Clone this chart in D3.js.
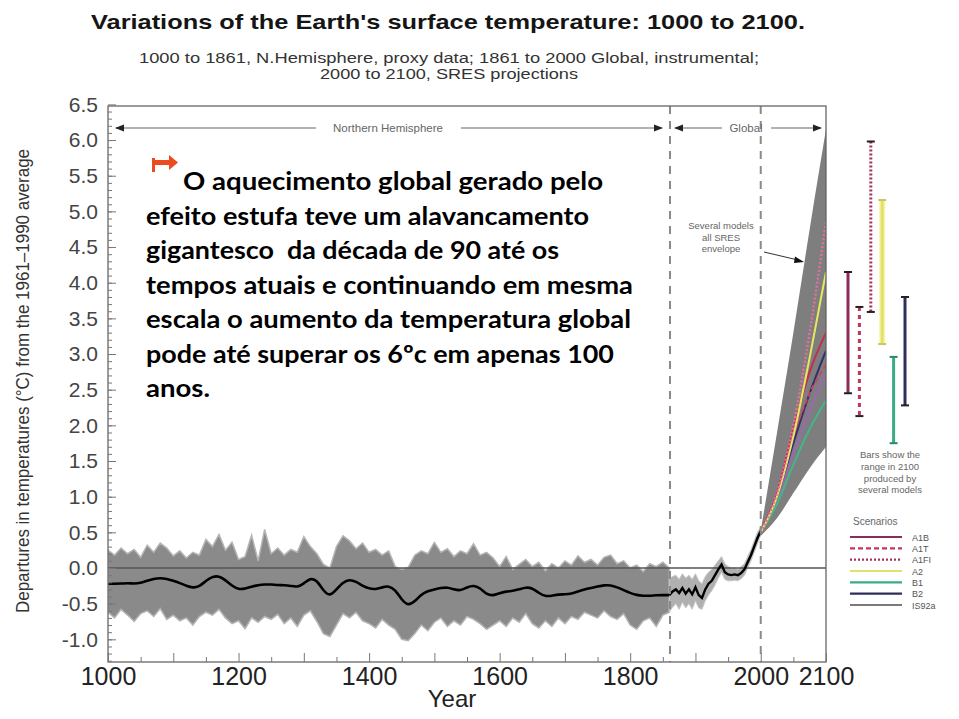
<!DOCTYPE html>
<html><head><meta charset="utf-8">
<script src="https://cdn.jsdelivr.net/npm/d3@7"></script>
<style>body{margin:0;background:#fff}svg{display:block}</style>
</head><body>
<svg id="c" width="959" height="719"></svg>
<script>
// ---------------- DATA ----------------
const proxyYears = d3.range(1000, 1870, 10); // 1000..1860
const proxySmooth = [-0.22,-0.22,-0.22,-0.21,-0.22,-0.21,-0.18,-0.15,-0.14,-0.15,
  -0.18,-0.21,-0.25,-0.28,-0.26,-0.18,-0.12,-0.11,-0.17,-0.25,
  -0.30,-0.29,-0.26,-0.24,-0.23,-0.23,-0.24,-0.24,-0.25,-0.27,
  -0.22,-0.14,-0.17,-0.32,-0.40,-0.30,-0.20,-0.16,-0.19,-0.25,
  -0.29,-0.30,-0.27,-0.25,-0.30,-0.45,-0.53,-0.47,-0.37,-0.32,
  -0.30,-0.28,-0.27,-0.30,-0.32,-0.27,-0.24,-0.28,-0.37,-0.39,
  -0.35,-0.33,-0.32,-0.30,-0.27,-0.28,-0.35,-0.40,-0.39,-0.37,
  -0.37,-0.36,-0.33,-0.30,-0.28,-0.26,-0.24,-0.24,-0.27,-0.31,
  -0.35,-0.38,-0.39,-0.39,-0.38,-0.38,-0.38];
const proxyUpper = [0.25,0.18,0.28,0.20,0.26,0.15,0.32,0.22,0.35,0.28,
  0.17,0.24,0.14,0.22,0.18,0.40,0.30,0.47,0.25,0.36,
  0.12,0.16,0.46,0.10,0.54,0.20,0.28,0.18,0.26,0.22,
  0.44,0.30,0.20,0.05,0.00,0.30,0.45,0.38,0.27,0.35,
  0.22,0.26,0.18,0.24,0.02,-0.02,0.01,0.18,0.24,0.20,
  0.36,0.22,0.27,0.16,0.24,0.20,0.34,0.18,0.22,0.14,
  0.02,0.16,-0.02,0.05,0.12,0.02,0.08,-0.04,0.06,0.00,
  0.10,0.04,0.17,0.08,0.12,0.04,0.15,0.18,0.06,0.10,
  0.00,0.04,-0.05,0.06,0.02,0.08,0.00];
const proxyLower = [-0.62,-0.70,-0.58,-0.66,-0.75,-0.64,-0.60,-0.68,-0.57,-0.72,
  -0.66,-0.74,-0.70,-0.80,-0.68,-0.62,-0.66,-0.58,-0.70,-0.78,
  -0.74,-0.85,-0.70,-0.76,-0.68,-0.72,-0.65,-0.78,-0.70,-0.82,
  -0.66,-0.60,-0.75,-0.92,-0.96,-0.80,-0.64,-0.70,-0.62,-0.74,
  -0.78,-0.84,-0.72,-0.80,-0.86,-1.00,-1.02,-0.92,-0.80,-0.88,
  -0.76,-0.70,-0.82,-0.74,-0.80,-0.68,-0.72,-0.78,-0.86,-0.80,
  -0.74,-0.82,-0.70,-0.76,-0.64,-0.78,-0.84,-0.74,-0.82,-0.70,
  -0.78,-0.68,-0.72,-0.62,-0.66,-0.70,-0.60,-0.68,-0.72,-0.64,
  -0.80,-0.86,-0.74,-0.70,-0.82,-0.66,-0.62];

const instYears = d3.range(1860, 2005, 5); // 1860..2000
const instValues = [-0.38,-0.33,-0.30,-0.35,-0.28,-0.36,-0.30,-0.37,-0.27,-0.38,
  -0.42,-0.30,-0.22,-0.18,-0.10,-0.02,0.05,-0.06,-0.09,-0.10,
  -0.09,-0.10,-0.07,-0.02,0.08,0.18,0.30,0.42,0.52];
const instUpper = [-0.15,-0.12,-0.10,-0.16,-0.08,-0.14,-0.10,-0.16,-0.08,-0.18,
  -0.22,-0.12,-0.06,-0.02,0.04,0.10,0.16,0.06,0.02,0.00,
  0.00,-0.02,0.02,0.06,0.16,0.26,0.38,0.50,0.58];
const instLower = [-0.62,-0.55,-0.50,-0.58,-0.48,-0.56,-0.50,-0.58,-0.46,-0.56,
  -0.58,-0.46,-0.38,-0.32,-0.24,-0.14,-0.06,-0.16,-0.18,-0.18,
  -0.17,-0.18,-0.15,-0.10,0.00,0.10,0.22,0.34,0.46];

const projYears = [2000, 2025, 2050, 2075, 2100];
const envUpper = [0.52, 1.9, 3.3, 4.75, 6.15];
const envLower = [0.45, 0.70, 1.05, 1.40, 1.70];
const scenarios = ["A1B","A1T","A1FI","A2","B1","B2","IS92a"];
const scenA1B  = [0.5, 1.05, 1.95, 2.75, 3.30];
const scenA1T  = [0.5, 1.05, 1.85, 2.45, 2.85];
const scenA1FI = [0.5, 1.05, 2.00, 3.30, 4.85];
const scenA2   = [0.5, 1.00, 1.85, 2.95, 4.15];
const scenB1   = [0.5, 0.90, 1.45, 1.95, 2.35];
const scenB2   = [0.5, 1.00, 1.75, 2.45, 3.05];
const scenIS92a= [0.5, 0.95, 1.60, 2.20, 2.75];
const barScenarios = ["A1B","A1T","A1FI","A2","B1","B2"];
const barLow  = [2.45, 2.13, 3.59, 3.14, 1.75, 2.28];
const barHigh = [4.15, 3.66, 5.98, 5.16, 2.96, 3.80];

const yTickValues = [-1,-0.5,0,0.5,1,1.5,2,2.5,3,3.5,4,4.5,5,5.5,6,6.5];
const xLabelYears = [1000,1200,1400,1600,1800,2000,2100];

// ---------------- STYLE ----------------
const scenColor = {A1B:"#8a2c5c", A1T:"#c2365e", A1FI:"#a8305c", A2:"#e2e26a", B1:"#3aab84", B2:"#2e2e5a", IS92a:"#7a7a7a"};
const scenDash  = {A1B:null, A1T:"5,3", A1FI:"2,2", A2:null, B1:null, B2:null, IS92a:null};
const lineColor = {A1B:"#c03050", A1T:"#d04060", A1FI:"#e070a0", A2:"#e8e860", B1:"#40b888", B2:"#303070", IS92a:"#9a6ab0"};

const svg = d3.select("#c");
const x = d3.scaleLinear().domain([1000, 2100]).range([108, 826]);
const y = d3.scaleLinear().domain([0, 6.5]).range([568, 104.4]);
const fTop = 106, fBot = 662, fL = 108, fR = 826;
const sans = "'Liberation Sans', Arial, sans-serif";

// Title
svg.append("text").attr("x", 448).attr("y", 29).attr("text-anchor","middle")
  .attr("font-family", sans).attr("font-weight","bold").attr("font-size", 21)
  .attr("fill","#151515").attr("textLength", 714).attr("lengthAdjust","spacingAndGlyphs")
  .text("Variations of the Earth's surface temperature: 1000 to 2100.");
svg.append("text").attr("x", 449).attr("y", 63).attr("text-anchor","middle")
  .attr("font-family", sans).attr("font-size", 14).attr("fill","#333")
  .attr("textLength", 620).attr("lengthAdjust","spacingAndGlyphs")
  .text("1000 to 1861, N.Hemisphere, proxy data; 1861 to 2000 Global, instrumental;");
svg.append("text").attr("x", 449).attr("y", 79).attr("text-anchor","middle")
  .attr("font-family", sans).attr("font-size", 14).attr("fill","#333")
  .attr("textLength", 258).attr("lengthAdjust","spacingAndGlyphs")
  .text("2000 to 2100, SRES projections");

// clip
svg.append("clipPath").attr("id","pc").append("rect")
  .attr("x", fL).attr("y", fTop).attr("width", fR-fL).attr("height", fBot-fTop);
const plot = svg.append("g").attr("clip-path","url(#pc)");

// proxy band
const proxyPts = proxyYears.map((yr,i)=>({yr, lo:proxyLower[i], hi:proxyUpper[i], v:proxySmooth[i]}));
plot.append("path").datum(proxyPts)
  .attr("d", d3.area().x(d=>x(d.yr)).y0(d=>y(d.lo)).y1(d=>y(d.hi)))
  .attr("fill","#8a8a8a").attr("stroke","#b4b4b4").attr("stroke-width",1.5);

// instrumental band
const instPts = instYears.map((yr,i)=>({yr, lo:instLower[i], hi:instUpper[i], v:instValues[i]}));
plot.append("path").datum(instPts)
  .attr("d", d3.area().x(d=>x(d.yr)).y0(d=>y(d.lo)).y1(d=>y(d.hi)))
  .attr("fill","#b0b0b0").attr("stroke","#c8c8c8").attr("stroke-width",1);

// envelope
const envPts = projYears.map((yr,i)=>({yr, lo:envLower[i], hi:envUpper[i]}));
plot.append("path").datum(envPts)
  .attr("d", d3.area().x(d=>x(d.yr)).y0(d=>y(d.lo)).y1(d=>y(d.hi)).curve(d3.curveMonotoneX))
  .attr("fill","#7e7e7e");

// scenario lines
const scenData = {A1B:scenA1B, A1T:scenA1T, A1FI:scenA1FI, A2:scenA2, B1:scenB1, B2:scenB2, IS92a:scenIS92a};
const scLine = d3.line().x(d=>x(d.yr)).y(d=>y(d.v)).curve(d3.curveMonotoneX);
["IS92a","B1","B2","A1T","A1B","A2","A1FI"].forEach(s=>{
  plot.append("path").datum(projYears.map((yr,i)=>({yr, v:scenData[s][i]})))
    .attr("d", scLine).attr("fill","none")
    .attr("stroke", lineColor[s]).attr("stroke-width", s==="A1FI"?2.5:2)
    .attr("stroke-dasharray", scenDash[s]);
});

// zero line
plot.append("line").attr("x1", fL).attr("x2", fR).attr("y1", y(0)).attr("y2", y(0))
  .attr("stroke","#555").attr("stroke-width",1.3);

// dashed verticals
[1861, 2000].forEach(yr=>{
  svg.append("line").attr("x1", x(yr)).attr("x2", x(yr)).attr("y1", fTop).attr("y2", fBot)
    .attr("stroke","#8a8a8a").attr("stroke-width",2).attr("stroke-dasharray","8,7");
});

// black lines
const bl = d3.line().x(d=>x(d.yr)).y(d=>y(d.v));
plot.append("path").datum(proxyPts).attr("d", bl.curve(d3.curveBasis))
  .attr("fill","none").attr("stroke","#000").attr("stroke-width",2.6);
plot.append("path").datum(instPts).attr("d", d3.line().x(d=>x(d.yr)).y(d=>y(d.v)))
  .attr("fill","none").attr("stroke","#000").attr("stroke-width",2.4);

// frame
svg.append("rect").attr("x", fL).attr("y", fTop).attr("width", fR-fL).attr("height", fBot-fTop)
  .attr("fill","none").attr("stroke","#666").attr("stroke-width",1.3);

// Y axis
const yMinor = d3.range(-13, 65).map(d=>d/10);
const gy1 = svg.append("g").attr("transform",`translate(${fL},0)`)
  .call(d3.axisLeft(y).tickValues(yMinor).tickSize(-4).tickFormat(""));
const gy2 = svg.append("g").attr("transform",`translate(${fL},0)`)
  .call(d3.axisLeft(y).tickValues(yTickValues).tickSize(-8).tickPadding(10).tickFormat(d=>d.toFixed(1)));
[gy1, gy2].forEach(g=>{
  g.select(".domain").remove();
  g.selectAll("line").attr("stroke","#777");
});
gy2.selectAll("text").attr("font-family", sans).attr("font-size", 21).attr("fill","#444");

// X axis
const xMinor = d3.range(1050, 2100, 100);
const xMajor = d3.range(1000, 2101, 100);
const gx1 = svg.append("g").attr("transform",`translate(0,${fBot})`)
  .call(d3.axisBottom(x).tickValues(xMinor).tickSize(-5).tickFormat(""));
const gx2 = svg.append("g").attr("transform",`translate(0,${fBot})`)
  .call(d3.axisBottom(x).tickValues(xMajor).tickSize(-9).tickPadding(5)
    .tickFormat(d=> xLabelYears.includes(d) ? String(d) : ""));
[gx1, gx2].forEach(g=>{
  g.select(".domain").remove();
  g.selectAll("line").attr("stroke","#777");
});
gx2.selectAll("text").attr("font-family", sans).attr("font-size", 25).attr("fill","#222");

svg.append("text").attr("x", 452).attr("y", 707).attr("text-anchor","middle")
  .attr("font-family", sans).attr("font-size", 24).attr("fill","#222").text("Year");

svg.append("text").attr("transform","translate(29,381) rotate(-90)").attr("text-anchor","middle")
  .attr("font-family", sans).attr("font-size", 19).attr("fill","#333")
  .attr("textLength", 464).attr("lengthAdjust","spacingAndGlyphs")
  .text("Departures in temperatures (°C) from the 1961–1990 average");

// top range annotations
function arrowHead(xTip, yy, dir){
  svg.append("path").attr("d", `M${xTip},${yy} L${xTip-dir*9},${yy-3.5} L${xTip-dir*9},${yy+3.5} Z`).attr("fill","#222");
}
function seg(x1,x2,yy){
  svg.append("line").attr("x1",x1).attr("x2",x2).attr("y1",yy).attr("y2",yy).attr("stroke","#999").attr("stroke-width",1.5);
}
const ay = 128;
seg(116, 316, ay); seg(461, 662, ay); arrowHead(115, ay, -1); arrowHead(663, ay, 1);
seg(675, 722, ay); seg(771, 821, ay); arrowHead(674, ay, -1); arrowHead(822, ay, 1);
svg.append("text").attr("x", 388).attr("y", ay+4).attr("text-anchor","middle")
  .attr("font-family", sans).attr("font-size", 11.5).attr("fill","#666").text("Northern Hemisphere");
svg.append("text").attr("x", 746).attr("y", ay+4).attr("text-anchor","middle")
  .attr("font-family", sans).attr("font-size", 11.5).attr("fill","#666").text("Global");

// envelope note
["Several models","all SRES","envelope"].forEach((t,i)=>{
  svg.append("text").attr("x", 721).attr("y", 229 + i*11.5).attr("text-anchor","middle")
    .attr("font-family", sans).attr("font-size", 9.5).attr("fill","#666").text(t);
});
svg.append("line").attr("x1", 764).attr("y1", 252).attr("x2", 798).attr("y2", 260)
  .attr("stroke","#333").attr("stroke-width",1);
svg.append("path").attr("d","M804,262 L795,256.5 L794,263 Z").attr("fill","#111");

// range bars
const bx = d3.scalePoint().domain(barScenarios).range([848, 905]);
barScenarios.forEach((s,i)=>{
  const xx = bx(s);
  if (s==="A2") {
    svg.append("line").attr("x1",xx).attr("x2",xx).attr("y1",y(barHigh[i])).attr("y2",y(barLow[i]))
      .attr("stroke","#f4f4b0").attr("stroke-width",6);
  }
  svg.append("line").attr("x1",xx).attr("x2",xx).attr("y1",y(barHigh[i])).attr("y2",y(barLow[i]))
    .attr("stroke", scenColor[s]).attr("stroke-width",3)
    .attr("stroke-dasharray", s==="A1T" ? "4,4" : (s==="A1FI" ? "2,2" : null));
  [barHigh[i], barLow[i]].forEach(v=>{
    svg.append("line").attr("x1",xx-4).attr("x2",xx+4).attr("y1",y(v)).attr("y2",y(v))
      .attr("stroke", s==="A2" ? "#c8c860" : (s==="B1" ? "#2a8a68" : "#222")).attr("stroke-width",2);
  });
});

["Bars show the","range in 2100","produced by","several models"].forEach((t,i)=>{
  svg.append("text").attr("x", 890).attr("y", 458 + i*11.8).attr("text-anchor","middle")
    .attr("font-family", sans).attr("font-size", 9.5).attr("fill","#666").text(t);
});

// legend
svg.append("text").attr("x", 853).attr("y", 525).attr("font-family", sans)
  .attr("font-size", 10).attr("fill","#666").text("Scenarios");
const ly = d3.scalePoint().domain(scenarios).range([537, 605]);
scenarios.forEach(s=>{
  const yy = ly(s);
  svg.append("line").attr("x1",850).attr("x2",902).attr("y1",yy).attr("y2",yy)
    .attr("stroke", scenColor[s]).attr("stroke-width",2.2).attr("stroke-dasharray", scenDash[s]);
  svg.append("text").attr("x", 912).attr("y", yy+3.5).attr("font-family", sans)
    .attr("font-size", 9).attr("fill","#555").text(s);
});

// overlay text
const overlay = [
  {t:"O aquecimento global gerado pelo", x:183, w:420},
  {t:"efeito estufa teve um alavancamento", x:146, w:443},
  {t:"gigantesco  da década de 90 até os", x:146, w:413},
  {t:"tempos atuais e continuando em mesma", x:146, w:487},
  {t:"escala o aumento da temperatura global", x:146, w:485},
  {t:"pode até superar os 6ºc em apenas 100", x:146, w:468},
  {t:"anos.", x:146, w:64}
];
overlay.forEach((o,i)=>{
  svg.append("text").attr("x", o.x).attr("y", 190 + i*34.5)
    .attr("font-family","Lato, 'Open Sans', sans-serif").attr("font-weight","bold")
    .attr("font-size", 25).attr("fill","#000").attr("xml:space","preserve")
    .style("white-space","pre")
    .attr("textLength", o.w).attr("lengthAdjust","spacingAndGlyphs").text(o.t);
});

// red arrow
svg.append("path").attr("d","M152,158 L152,172 L155,172 L155,165 L169,165 L169,170 L178,162.5 L169,155 L169,160 L155,160 L155,158 Z")
  .attr("fill","#ee4a1f");
</script>
</body></html>
